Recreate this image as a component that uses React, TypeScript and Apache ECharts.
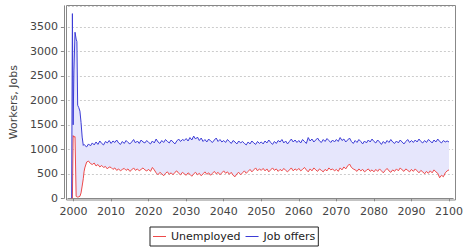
import React, { useEffect, useRef } from "react";
import * as echarts from "echarts";

const earlyYears = [1999.5, 1999.7, 1999.9, 2000.1, 2000.4, 2000.7, 2000.9, 2001.1, 2001.4, 2001.7, 2002.0, 2002.3, 2002.6, 2002.8];
const earlyJobOffers = [0, 3770, 1500, 2600, 3390, 3250, 3200, 1900, 1850, 1780, 1550, 1250, 1080, 1100];
const earlyUnemployed = [0, 0, 1280, 1250, 1260, 40, 30, 25, 30, 40, 110, 250, 400, 540];

const mainStartYear = 2003;
const mainStep = 0.5;

const jobOffers = [
  1080, 1050, 1110, 1070, 1130, 1090, 1150, 1100, 1170, 1120, 1090, 1160, 1130, 1180,
  1120, 1170, 1140, 1190, 1130, 1100, 1160, 1120, 1180, 1140, 1110, 1150, 1200, 1130, 1170, 1120, 1190, 1150, 1130, 1180,
  1140, 1110, 1170, 1130, 1210, 1150, 1120, 1180, 1140, 1200, 1160, 1130, 1190, 1150, 1110, 1170, 1210, 1160, 1200, 1180,
  1220, 1170, 1240, 1190, 1270, 1210, 1250, 1180, 1230, 1160, 1200, 1150, 1210, 1170, 1140, 1190, 1230, 1160, 1200, 1150,
  1180, 1140, 1200, 1160, 1120, 1180, 1150, 1110, 1170, 1130, 1160, 1120, 1090, 1150, 1110, 1170, 1130, 1100, 1160, 1120,
  1150, 1110, 1170, 1130, 1190, 1140, 1100, 1160, 1120, 1180, 1150, 1200, 1130, 1170, 1110, 1160, 1210, 1150, 1190, 1140,
  1180, 1130, 1200, 1160, 1120, 1240, 1170, 1210, 1150, 1190, 1230, 1170, 1140, 1200, 1160, 1220, 1180, 1140, 1190, 1150,
  1200, 1160, 1240, 1180, 1210, 1150, 1190, 1230, 1160, 1120, 1180, 1140, 1200, 1160, 1110, 1170, 1130, 1190, 1150, 1210,
  1160, 1130, 1190, 1150, 1100, 1160, 1120, 1180, 1140, 1200, 1150, 1120, 1170, 1130, 1190, 1150, 1110, 1160, 1200, 1140,
  1180, 1140, 1190, 1150, 1210, 1160, 1130, 1180, 1140, 1200, 1170, 1130, 1190, 1150, 1210, 1160, 1130, 1180, 1150, 1170,
  1150,
];

const unemployed = [
  620, 740, 760, 710, 690, 720, 660, 690, 640, 670, 630, 650, 600, 640,
  630, 590, 620, 570, 600, 560, 590, 610, 570, 600, 550, 580, 620, 570, 600, 560, 590, 620, 580, 560,
  590, 550, 630, 580, 520, 480, 530, 500, 460, 510, 540, 490, 520, 480, 530, 560, 510, 480, 530, 500,
  470, 520, 490, 450, 500, 530, 480, 510, 460, 500, 540, 490, 520, 470, 510, 550, 500, 530, 480, 520,
  560, 510, 540, 490, 530, 470, 440, 500, 530, 480, 520, 560, 510, 550, 590, 540, 580, 620, 560, 600,
  570, 610, 560, 600, 540, 580, 620, 570, 600, 550, 590, 560, 610, 570, 540, 580, 620, 560, 600, 570,
  610, 560, 590, 630, 580, 540, 600, 560, 620, 580, 550, 600, 570, 540, 590, 560, 620, 580, 600, 560,
  590, 550, 620, 580, 640, 600, 660, 700, 630, 600, 580, 550, 600, 560, 590, 540, 570, 600, 550, 580,
  540, 590, 550, 600, 560, 520, 570, 610, 560, 530, 580, 550, 600, 560, 620, 580, 550, 600, 570, 540,
  590, 550, 600, 560, 520, 570, 540, 500, 550, 510, 560, 520, 580, 540, 510, 420, 470, 440, 520, 560,
  580,
];

const xTicks = [2000, 2010, 2020, 2030, 2040, 2050, 2060, 2070, 2080, 2090, 2100];

const RED = "#ee4a4a";
const BLUE = "#3c3cd6";
const FILL = "#e6e6fc";
const FONT = "DejaVu Sans";

export default function App() {
  const ref = useRef<HTMLDivElement>(null);

  useEffect(() => {
    if (!ref.current) return;
    const chart = echarts.init(ref.current, undefined, { renderer: "svg" });

    const years: number[] = [...earlyYears];
    jobOffers.forEach((_, i) => years.push(mainStartYear + i * mainStep));
    const blue = [...earlyJobOffers, ...jobOffers];
    const red = [...earlyUnemployed, ...unemployed];

    const redData = years.map((y, i) => [y, red[i]]);
    const blueData = years.map((y, i) => [y, blue[i]]);

    chart.setOption({
      animation: false,
      backgroundColor: "#ffffff",
      textStyle: { fontFamily: FONT },
      grid: { left: 66, right: 10, top: 5.8, bottom: 53.7, containLabel: false },
      legend: {
        data: ["Unemployed", "Job offers"],
        left: 150,
        top: 227,
        orient: "horizontal",
        icon: "rect",
        itemWidth: 13,
        itemHeight: 1,
        itemGap: 5,
        padding: [4, 3, 4, 3],
        borderColor: "#222",
        borderWidth: 1,
        textStyle: { fontFamily: FONT, fontSize: 11, color: "#222" },
      },
      xAxis: {
        type: "value",
        min: 1998.5,
        max: 2101.1,
        offset: 3,
        axisLine: { show: true, lineStyle: { color: "#888", width: 1 } },
        axisTick: { show: true, length: 3, lineStyle: { color: "#888" }, customValues: xTicks },
        axisLabel: {
          customValues: xTicks,
          margin: 5,
          fontFamily: FONT,
          fontSize: 11,
          color: "#444",
          formatter: (v: number) => String(Math.round(v)),
        },
        splitLine: { show: false },
      },
      yAxis: {
        type: "value",
        min: 0,
        max: 3930,
        interval: 500,
        offset: 4,
        name: "Workers, Jobs",
        nameLocation: "middle",
        nameGap: 30,
        nameTextStyle: { fontFamily: FONT, fontSize: 11, color: "#444" },
        axisLine: { show: true, lineStyle: { color: "#888", width: 1 } },
        axisTick: { show: true, length: 3, lineStyle: { color: "#888" } },
        axisLabel: {
          margin: 6,
          fontFamily: FONT,
          fontSize: 11,
          color: "#444",
          showMaxLabel: false,
          formatter: (v: number) => String(v),
        },
        splitLine: { show: true, lineStyle: { color: "#cccccc", type: [2, 2], width: 1 } },
      },
      graphic: [
        {
          type: "rect",
          silent: true,
          z: 100,
          shape: { x: 66.5, y: 5.5, width: 389, height: 194.5 },
          style: { fill: "none", stroke: "#888", lineWidth: 1 },
        },
      ],
      series: [
        {
          name: "band",
          type: "custom",
          silent: true,
          z: 1,
          clip: true,
          data: [[years[0], 0]],
          renderItem: (params: any, api: any) => {
            if (params.dataIndex !== 0) return null;
            const pts: number[][] = [];
            for (let i = 0; i < years.length; i++) pts.push(api.coord([years[i], blue[i]]));
            for (let i = years.length - 1; i >= 0; i--) pts.push(api.coord([years[i], red[i]]));
            return {
              type: "polygon",
              shape: { points: pts },
              style: { fill: FILL, stroke: "none" },
            };
          },
        },
        {
          name: "Unemployed",
          type: "line",
          data: redData,
          symbol: "none",
          color: RED,
          lineStyle: { color: RED, width: 1 },
          z: 3,
        },
        {
          name: "Job offers",
          type: "line",
          data: blueData,
          symbol: "none",
          color: BLUE,
          lineStyle: { color: BLUE, width: 1 },
          z: 3,
        },
      ],
    });

    return () => chart.dispose();
  }, []);

  return (
    <div
      ref={ref}
      style={{ position: "fixed", left: 0, top: 0, width: 466, height: 252 }}
    />
  );
}
